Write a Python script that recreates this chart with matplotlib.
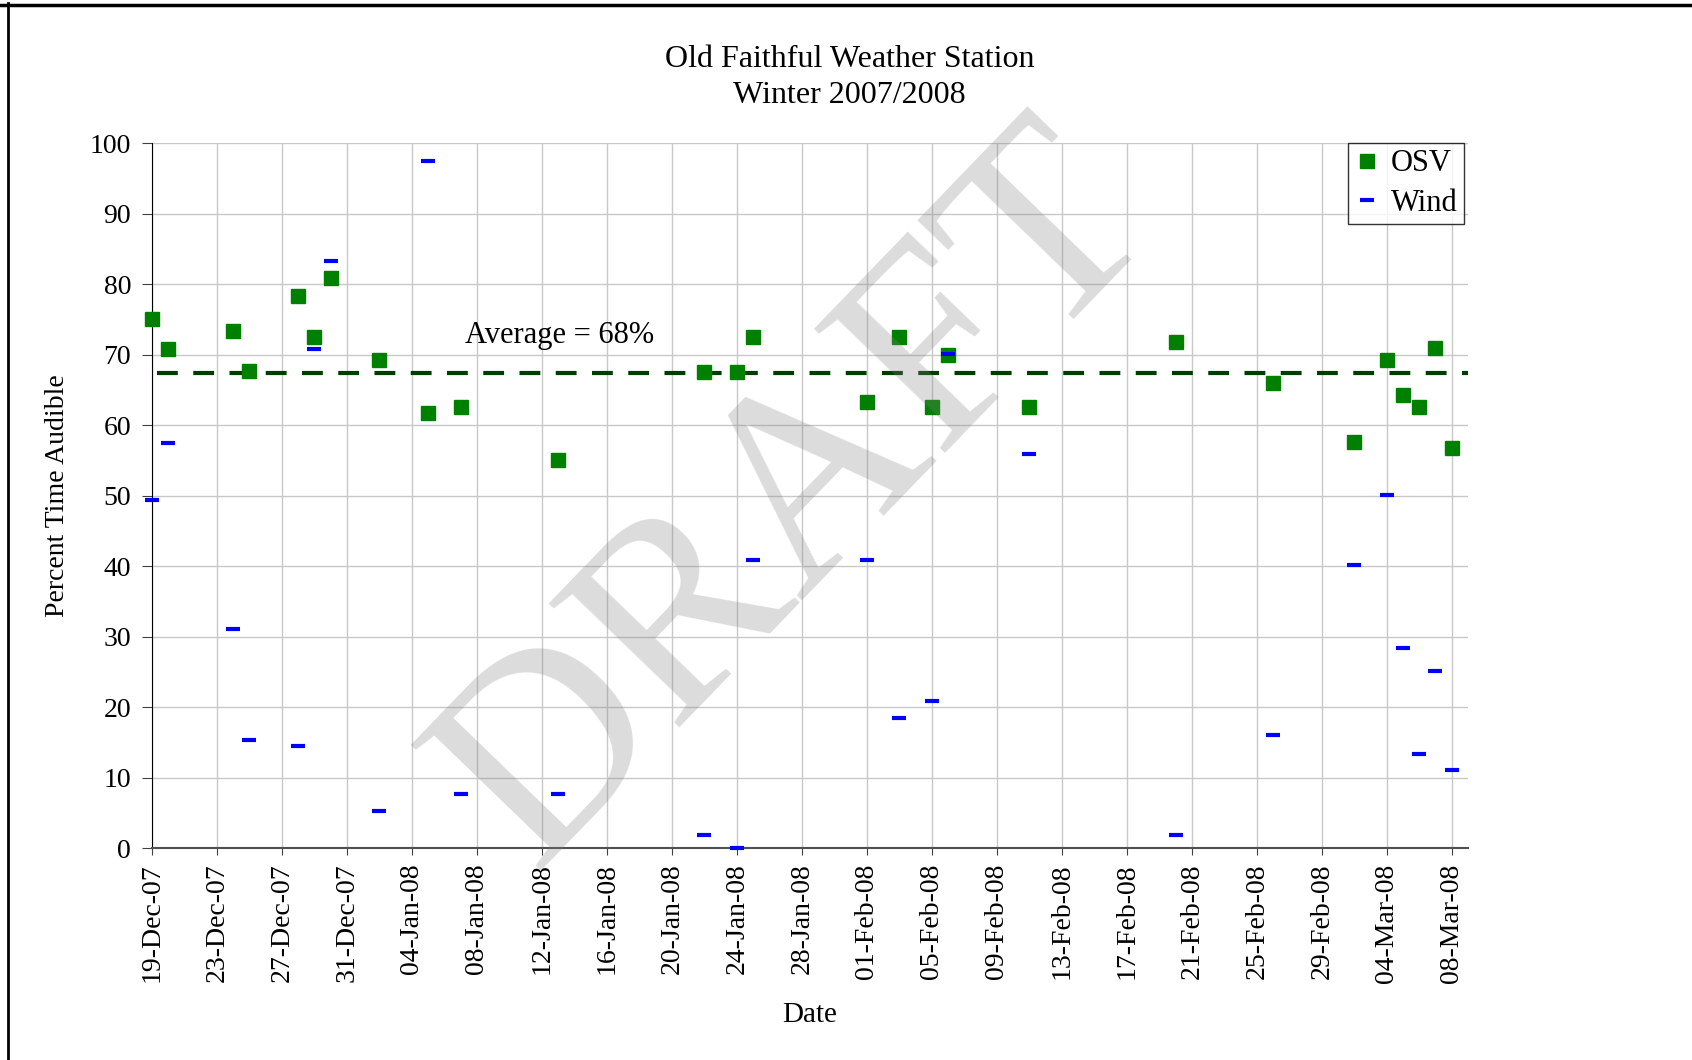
import matplotlib
matplotlib.use("Agg")
import matplotlib.pyplot as plt
import matplotlib.dates as mdates
from matplotlib.lines import Line2D
import pandas as pd

plt.rcParams['font.family'] = ['Liberation Serif', 'DejaVu Serif']

# data
dates = ['2007-12-19', '2007-12-20', '2007-12-24', '2007-12-25', '2007-12-28',
         '2007-12-29', '2007-12-30', '2008-01-02', '2008-01-05', '2008-01-07',
         '2008-01-13', '2008-01-22', '2008-01-24', '2008-01-25', '2008-02-01',
         '2008-02-03', '2008-02-05', '2008-02-06', '2008-02-11', '2008-02-20',
         '2008-02-26', '2008-03-02', '2008-03-04', '2008-03-05', '2008-03-06',
         '2008-03-07', '2008-03-08']
osv = [75.0, 70.8, 73.3, 67.6, 78.3, 72.5, 80.8, 69.2, 61.7, 62.6,
       55.0, 67.5, 67.5, 72.5, 63.3, 72.5, 62.5, 70.0, 62.6, 71.8,
       65.9, 57.6, 69.3, 64.3, 62.6, 70.9, 56.8]
wind = [49.4, 57.5, 31.0, 15.3, 14.5, 70.8, 83.3, 5.2, 97.5, 7.7,
        7.7, 1.8, 0.0, 40.9, 40.9, 18.4, 20.9, 70.1, 55.9, 1.9,
        16.0, 40.1, 50.1, 28.4, 13.4, 25.1, 11.0]
average = 67.4
average_label = "Average = 68%"
x_start, x_end = '2007-12-19', '2008-03-09'

dt = pd.to_datetime(dates)

fig = plt.figure(figsize=(16.92, 10.6), dpi=100)
ax = fig.add_axes([0.0898, 0.2, 0.7778, 0.665])

ax.plot(dt, osv, linestyle='none', marker='s', markersize=10, color='#008000',
        label='OSV', clip_on=False, zorder=3)
ax.plot(dt, wind, linestyle='none', marker='_', markersize=10, markeredgewidth=3,
        color='#0000ff', label='Wind', clip_on=False, zorder=4)

xs = pd.to_datetime([x_start, x_end])
ax.plot([pd.Timestamp('2007-12-19 08:00'), xs[1]], [average, average], color='#003d00',
        linewidth=3, dashes=(5, 3.7), zorder=2)
ax.text(pd.Timestamp('2008-01-07 07:00'), 71.6, average_label, fontsize=22, va='baseline')

ax.set_xlim(xs[0], xs[1])
ax.set_ylim(0, 100)
ax.set_yticks(range(0, 101, 10))
ax.set_xticks(pd.date_range(x_start, '2008-03-08', freq='4D'))
ax.xaxis.set_major_formatter(mdates.DateFormatter('%d-%b-%y'))
ax.tick_params(axis='x', labelrotation=90, labelsize=20, length=5, pad=6, color='#404040')
ax.tick_params(axis='y', labelsize=20, length=7, pad=8, color='#404040')
ax.grid(True, color='#c8c8c8', linewidth=1)
ax.set_axisbelow(True)
for s in ['top', 'right']:
    ax.spines[s].set_visible(False)
ax.spines['left'].set_color('black')
ax.spines['bottom'].set_color('#505050')
ax.spines['bottom'].set_linewidth(1.5)

ax.set_ylabel('Percent Time Audible', fontsize=20, labelpad=14)
ax.set_xlabel('Date', fontsize=21, labelpad=14)

leg = ax.legend(loc='upper right', fontsize=22, frameon=True, fancybox=False,
                borderaxespad=0.0, handlelength=0.8, handletextpad=0.4,
                borderpad=0.2, labelspacing=0.35, bbox_to_anchor=(0.997, 1.0))
leg.get_frame().set_edgecolor('black')
leg.get_frame().set_linewidth(1)

fig.text(0.502, 0.927, 'Old Faithful Weather Station\nWinter 2007/2008', ha='center',
         va='center', fontsize=23, linespacing=1.3)

# DRAFT watermark
fig.text(0.472, 0.528, 'DRAFT', fontsize=198, rotation=46, color='#808080', alpha=0.28,
         ha='center', va='center', zorder=10)

# page border at top and left
fig.add_artist(Line2D([0, 1], [0.9955, 0.9955], color='black', linewidth=2.5, transform=fig.transFigure))
fig.add_artist(Line2D([0.0048, 0.0048], [0, 0.997], color='black', linewidth=2, transform=fig.transFigure))

fig.savefig('out.png', dpi=100)
